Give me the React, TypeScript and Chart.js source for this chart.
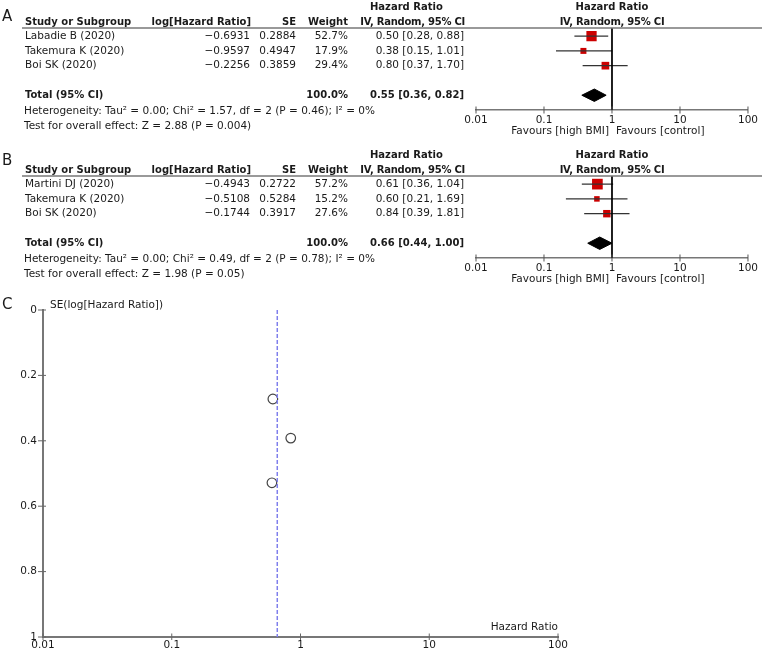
import React, { useEffect, useRef } from "react";
import { Chart, registerables } from "chart.js";
Chart.register(...registerables);

const FONT = '"DejaVu Sans", Verdana, sans-serif';
const TEXT = "#1a1a1a";
const AXIS = "#777777";

// ---------- Panel A ----------
const studiesA = ["Labadie B (2020)", "Takemura K (2020)", "Boi SK (2020)"];
const logHRA = [-0.6931, -0.9597, -0.2256];
const seA = [0.2884, 0.4947, 0.3859];
const weightA = [52.7, 17.9, 29.4];
const hrA = [0.5, 0.38, 0.8];
const lowA = [0.28, 0.15, 0.37];
const highA = [0.88, 1.01, 1.7];
const totalA = [0.55, 0.36, 0.82]; // estimate, lower, upper
const hetA = ["0.00", "1.57", "2", "0.46", "0%"]; // Tau², Chi², df, P, I²
const effectA = ["2.88", "0.004"]; // Z, P

// ---------- Panel B ----------
const studiesB = ["Martini DJ (2020)", "Takemura K (2020)", "Boi SK (2020)"];
const logHRB = [-0.4943, -0.5108, -0.1744];
const seB = [0.2722, 0.5284, 0.3917];
const weightB = [57.2, 15.2, 27.6];
const hrB = [0.61, 0.6, 0.84];
const lowB = [0.36, 0.21, 0.39];
const highB = [1.04, 1.69, 1.81];
const totalB = [0.66, 0.44, 1.0];
const hetB = ["0.00", "0.49", "2", "0.78", "0%"];
const effectB = ["1.98", "0.05"];

// ---------- Panel C (funnel) ----------
const funnelHR = [0.61, 0.6, 0.84];
const funnelSE = [0.2722, 0.5284, 0.3917];
const pooledHR = 0.66;

const hrTicks = [0.01, 0.1, 1, 10, 100];
const seTicks = [0, 0.2, 0.4, 0.6, 0.8, 1];

function txt(
  ctx: CanvasRenderingContext2D,
  s: string,
  x: number,
  y: number,
  align: CanvasTextAlign = "left",
  bold = false,
  size = 10.5,
  spacing = "0px"
) {
  ctx.font = `${bold ? "bold " : ""}${size}px ${FONT}`;
  (ctx as any).letterSpacing = spacing;
  ctx.textAlign = align;
  ctx.textBaseline = "middle";
  ctx.fillStyle = TEXT;
  ctx.fillText(s, x, y);
  (ctx as any).letterSpacing = "0px";
}

const fmtLog = (v: number) => v.toFixed(4).replace("-", "\u2212");
const fmtCI = (e: number, l: number, h: number) =>
  `${e.toFixed(2)} [${l.toFixed(2)}, ${h.toFixed(2)}]`;

type ForestProps = {
  letter: string;
  letterY: number;
  top: number;
  studies: string[];
  logHR: number[];
  se: number[];
  weight: number[];
  hr: number[];
  low: number[];
  high: number[];
  total: number[];
  het: string[];
  effect: string[];
};

const FH = 148;
const BS = 10; // bold size

function Forest(p: ForestProps) {
  const ref = useRef<HTMLCanvasElement>(null);
  useEffect(() => {
    const canvas = ref.current!;
    const n = p.studies.length;
    const totalRow = n + 1;
    const datasets: any[] = [];
    datasets.push({
      data: [
        { x: 1, y: -0.55 },
        { x: 1, y: 5 },
      ],
      borderColor: "#000",
      borderWidth: 1,
      pointRadius: 0,
    });
    for (let i = 0; i < n; i++) {
      datasets.push({
        data: [
          { x: p.low[i], y: i },
          { x: p.high[i], y: i },
        ],
        borderColor: "#333",
        borderWidth: 1.3,
        pointRadius: 0,
      });
    }
    datasets.push({
      data: p.hr.map((v, i) => ({ x: v, y: i })),
      showLine: false,
      pointStyle: "rect",
      pointRadius: p.weight.map((w) => Math.sqrt(w)),
      pointBackgroundColor: "#cc0000",
      pointBorderWidth: 0,
      backgroundColor: "#cc0000",
      borderColor: "#cc0000",
    });
    const h = 0.42;
    datasets.push({
      data: [
        { x: p.total[1], y: totalRow },
        { x: p.total[0], y: totalRow - h },
        { x: p.total[2], y: totalRow },
        { x: p.total[0], y: totalRow + h },
        { x: p.total[1], y: totalRow },
      ],
      borderColor: "#000",
      backgroundColor: "#000",
      borderWidth: 1,
      pointRadius: 0,
      fill: "shape",
    });

    const tablePlugin = {
      id: "table",
      afterDraw(chart: any) {
        const ctx: CanvasRenderingContext2D = chart.ctx;
        const ys = chart.scales.y;
        const xs = chart.scales.x;
        const row = (i: number) => ys.getPixelForValue(i);
        const lineY = chart.chartArea.top;
        ctx.save();
        ctx.strokeStyle = AXIS;
        ctx.lineWidth = 1.5;
        ctx.beginPath();
        ctx.moveTo(22, lineY);
        ctx.lineTo(762, lineY);
        ctx.stroke();
        ctx.lineWidth = 1;
        ctx.strokeStyle = "#555";
        xs.ticks.forEach((t: any) => {
          const px = xs.getPixelForValue(t.value);
          ctx.beginPath();
          ctx.moveTo(px, xs.top - 3.5);
          ctx.lineTo(px, xs.top + 3.5);
          ctx.stroke();
        });

        txt(ctx, p.letter, 2, p.letterY, "left", false, 15);
        const hy = lineY - 6;
        const hy2 = lineY - 20.5;
        const one = xs.getPixelForValue(1);
        txt(ctx, "Hazard Ratio", 370, hy2, "left", true, BS);
        txt(ctx, "Hazard Ratio", one, hy2, "center", true, BS);
        txt(ctx, "Study or Subgroup", 25, hy, "left", true, BS);
        txt(ctx, "log[Hazard Ratio]", 251, hy, "right", true, BS);
        txt(ctx, "SE", 296, hy, "right", true, BS);
        txt(ctx, "Weight", 348, hy, "right", true, BS);
        txt(ctx, "IV, Random, 95% CI", 465, hy, "right", true, BS, "-0.25px");
        txt(ctx, "IV, Random, 95% CI", one, hy, "center", true, BS, "-0.25px");

        for (let i = 0; i < n; i++) {
          const y = row(i);
          txt(ctx, p.studies[i], 25, y);
          txt(ctx, fmtLog(p.logHR[i]), 250, y, "right");
          txt(ctx, p.se[i].toFixed(4), 296, y, "right");
          txt(ctx, `${p.weight[i].toFixed(1)}%`, 348, y, "right");
          txt(ctx, fmtCI(p.hr[i], p.low[i], p.high[i]), 464, y, "right");
        }
        const ty = row(totalRow);
        const wsum = p.weight.reduce((a, b) => a + b, 0);
        txt(ctx, "Total (95% CI)", 25, ty, "left", true, BS);
        txt(ctx, `${wsum.toFixed(1)}%`, 348, ty, "right", true, BS);
        txt(ctx, fmtCI(p.total[0], p.total[1], p.total[2]), 464, ty, "right", true, BS);
        txt(
          ctx,
          `Heterogeneity: Tau\u00b2 = ${p.het[0]}; Chi\u00b2 = ${p.het[1]}, df = ${p.het[2]} (P = ${p.het[3]}); I\u00b2 = ${p.het[4]}`,
          24,
          row(totalRow + 1.1)
        );
        txt(
          ctx,
          `Test for overall effect: Z = ${p.effect[0]} (P = ${p.effect[1]})`,
          24,
          row(totalRow + 2.1)
        );
        const fy = xs.top + 21;
        txt(ctx, "Favours [high BMI]", one - 3, fy, "right");
        txt(ctx, "Favours [control]", one + 4, fy, "left");
        ctx.restore();
      },
    };

    const chart = new Chart(canvas, {
      type: "line",
      data: { datasets },
      options: {
        responsive: false,
        animation: false,
        events: [],
        layout: { padding: { left: 476, right: 11, top: 28, bottom: 0 } },
        plugins: { legend: { display: false }, tooltip: { enabled: false } },
        scales: {
          x: {
            type: "logarithmic",
            min: 0.01,
            max: 100,
            afterBuildTicks: (s: any) => {
              s.ticks = hrTicks.map((v) => ({ value: v }));
            },
            afterFit: (s: any) => {
              s.height = FH - 110;
            },
            grid: { display: false, drawTicks: false },
            border: { display: true, color: AXIS, width: 1.5 },
            ticks: {
              autoSkip: false,
              maxRotation: 0,
              padding: 4,
              color: TEXT,
              font: { family: FONT, size: 10.5 },
              callback: (v: any) => String(v),
            },
          },
          y: { type: "linear", min: -0.55, max: 5, reverse: true, display: false },
        },
      },
      plugins: [tablePlugin],
    } as any);
    return () => chart.destroy();
  }, []);
  return (
    <canvas
      ref={ref}
      width={762}
      height={FH}
      style={{ position: "absolute", left: 0, top: p.top, width: 762, height: FH }}
    />
  );
}

const CH = 362;

function Funnel({ top }: { top: number }) {
  const ref = useRef<HTMLCanvasElement>(null);
  useEffect(() => {
    const canvas = ref.current!;
    const decor = {
      id: "decor",
      afterDraw(chart: any) {
        const ctx: CanvasRenderingContext2D = chart.ctx;
        const xs = chart.scales.x;
        const ys = chart.scales.y;
        ctx.save();
        ctx.strokeStyle = "#666";
        ctx.lineWidth = 1;
        xs.ticks.forEach((t: any) => {
          const px = xs.getPixelForValue(t.value);
          ctx.beginPath();
          ctx.moveTo(px, xs.top - 3.5);
          ctx.lineTo(px, xs.top + 3);
          ctx.stroke();
        });
        ys.ticks.forEach((t: any) => {
          const py = ys.getPixelForValue(t.value);
          ctx.beginPath();
          ctx.moveTo(ys.right - 5, py);
          ctx.lineTo(ys.right + 3, py);
          ctx.stroke();
        });
        txt(ctx, "C", 2, 15, "left", false, 15);
        txt(ctx, "SE(log[Hazard Ratio])", 50, 15, "left");
        txt(ctx, "Hazard Ratio", xs.right, xs.top - 10, "right");
        ctx.restore();
      },
    };
    const chart = new Chart(canvas, {
      type: "line",
      data: {
        datasets: [
          {
            data: [
              { x: pooledHR, y: 0 },
              { x: pooledHR, y: 1 },
            ],
            borderColor: "#7f7fec",
            borderWidth: 1.5,
            borderDash: [4, 2],
            pointRadius: 0,
          },
          {
            data: funnelHR.map((v, i) => ({ x: v, y: funnelSE[i] })),
            showLine: false,
            pointStyle: "circle",
            pointRadius: 4.8,
            pointBorderColor: "#444",
            pointBorderWidth: 1.2,
            pointBackgroundColor: "rgba(255,255,255,0)",
          },
        ],
      },
      options: {
        responsive: false,
        animation: false,
        events: [],
        layout: { padding: { left: 0, right: 204, top: 20, bottom: 0 } },
        plugins: { legend: { display: false }, tooltip: { enabled: false } },
        scales: {
          x: {
            type: "logarithmic",
            min: 0.01,
            max: 100,
            afterBuildTicks: (s: any) => {
              s.ticks = hrTicks.map((v) => ({ value: v }));
            },
            afterFit: (s: any) => {
              s.height = 15;
            },
            grid: { display: false, drawTicks: false },
            border: { display: true, color: AXIS, width: 2 },
            ticks: {
              autoSkip: false,
              maxRotation: 0,
              padding: 2,
              color: TEXT,
              font: { family: FONT, size: 10.5 },
              callback: (v: any) => String(v),
            },
          },
          y: {
            type: "linear",
            min: 0,
            max: 1,
            reverse: true,
            afterBuildTicks: (s: any) => {
              s.ticks = seTicks.map((v) => ({ value: v }));
            },
            afterFit: (s: any) => {
              s.width = 43;
            },
            grid: { display: false, drawTicks: false },
            border: { display: true, color: AXIS, width: 2 },
            ticks: {
              padding: 6,
              color: TEXT,
              font: { family: FONT, size: 10.5 },
              callback: (v: any) => String(v),
            },
          },
        },
      },
      plugins: [decor],
    } as any);
    return () => chart.destroy();
  }, []);
  return (
    <canvas
      ref={ref}
      width={762}
      height={CH}
      style={{ position: "absolute", left: 0, top, width: 762, height: CH }}
    />
  );
}

export default function App() {
  return (
    <div
      style={{
        position: "absolute",
        left: 0,
        top: 0,
        width: 762,
        height: 652,
        background: "#fff",
        overflow: "hidden",
      }}
    >
      <Forest
        letter="A"
        letterY={17}
        top={0}
        studies={studiesA}
        logHR={logHRA}
        se={seA}
        weight={weightA}
        hr={hrA}
        low={lowA}
        high={highA}
        total={totalA}
        het={hetA}
        effect={effectA}
      />
      <Forest
        letter="B"
        letterY={13}
        top={148}
        studies={studiesB}
        logHR={logHRB}
        se={seB}
        weight={weightB}
        hr={hrB}
        low={lowB}
        high={highB}
        total={totalB}
        het={hetB}
        effect={effectB}
      />
      <Funnel top={290} />
    </div>
  );
}
